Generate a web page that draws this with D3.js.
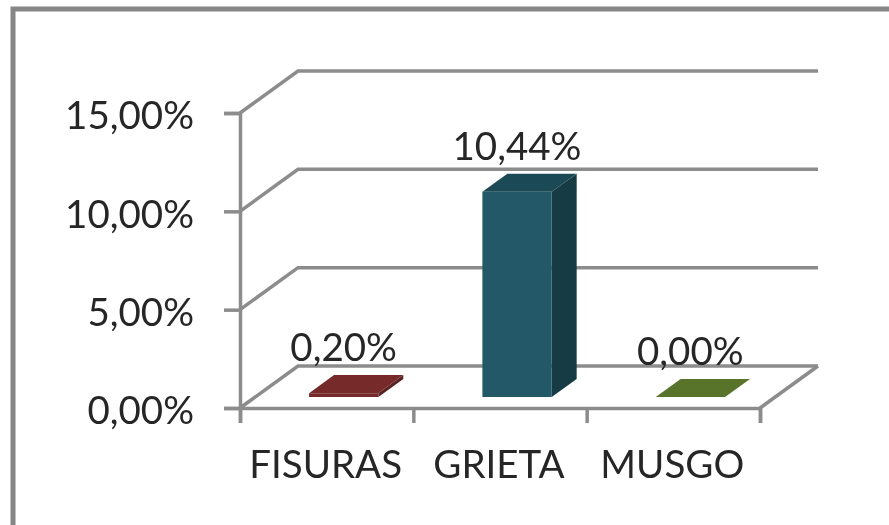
<!DOCTYPE html>
<html>
<head>
<meta charset="utf-8">
<script src="https://cdn.jsdelivr.net/npm/d3@7"></script>
<style>
  html, body { margin: 0; padding: 0; background: #fff; }
  svg { display: block; }
  text { font-family: Lato, "Open Sans", sans-serif; fill: #262626; }
</style>
</head>
<body>
<div id="chart"></div>
<script>
var categories = ["FISURAS", "GRIETA", "MUSGO"];
var values = [0.002, 0.1044, 0];
var barColours = ["#772b2a", "#215968", "#58732c"];
var topColours = ["#772b2a", "#1b4a56", "#58732c"];
var sideColours = ["#5a2020", "#153a44", "#445a22"];
var yTicks = [0, 0.05, 0.10, 0.15];

var width = 889, height = 525;
var plotLeft = 240, plotRight = 760, plotBottom = 408, plotTop = 113;
var depthX = 58, depthY = 42;
var barFront = 0.26, barBack = 0.69;
var grey = "#8c8c8c";
var fontSize = 38.5;

var locale = d3.formatLocale({ decimal: ",", thousands: ".", grouping: [3], currency: ["", ""] });
var pct = locale.format(".2%");

var svg = d3.select("#chart").append("svg")
    .attr("width", width)
    .attr("height", height);

svg.append("defs").append("filter")
    .attr("id", "soft")
    .append("feGaussianBlur")
    .attr("stdDeviation", 0.6);

var chart = svg.append("g").attr("filter", "url(#soft)");

var y = d3.scaleLinear().domain([0, 0.15]).range([plotBottom, plotTop]);
var x = d3.scaleBand().domain(categories).range([plotLeft, plotRight])
    .paddingInner(0.6).paddingOuter(0.3).align(0.519);
var xEdges = d3.scaleLinear().domain([0, categories.length]).range([plotLeft, plotRight]);

// puts a point of the 3d box on the page, z goes 0 (front) to 1 (back)
function project(px, v, z) {
  return [px + depthX * z, y(v) - depthY * z];
}
var line = d3.line();

// outer frame, runs off the page on the right and bottom
chart.append("path")
    .attr("d", "M13," + (height + 5) + "V9H" + (width + 5))
    .attr("fill", "none")
    .attr("stroke", "#868686")
    .attr("stroke-width", 5);

// floor and back wall gridlines
var walls = chart.append("g")
    .attr("fill", "none")
    .attr("stroke", grey)
    .attr("stroke-width", 3.5);

walls.selectAll(".grid")
    .data(yTicks)
    .enter()
    .append("path")
    .attr("class", "grid")
    .attr("d", function(d) {
      return line([project(plotLeft, d, 0), project(plotLeft, d, 1), project(plotRight, d, 1)]);
    });

walls.append("path")
    .attr("d", line([project(plotRight, 0, 0), project(plotRight, 0, 1)]));

// axes
var yAxis = chart.append("g")
    .attr("transform", "translate(" + plotLeft + ",0)")
    .call(d3.axisLeft(y).tickValues(yTicks).tickFormat(pct).tickSize(16).tickPadding(30));

var xTicks = chart.append("g")
    .attr("transform", "translate(0," + plotBottom + ")")
    .call(d3.axisBottom(xEdges).ticks(categories.length).tickFormat("").tickSize(15));

var xAxis = chart.append("g")
    .attr("transform", "translate(0," + plotBottom + ")")
    .call(d3.axisBottom(x).tickSize(0).tickPadding(43));

chart.selectAll(".domain, .tick line")
    .attr("stroke", grey)
    .attr("stroke-width", 3.5);
xAxis.select(".domain").remove();

chart.selectAll(".tick text")
    .attr("font-size", fontSize)
    .attr("fill", "#262626")
    .style("font-family", "Lato");
yAxis.selectAll(".tick text")
    .attr("dy", "0.41em");
xAxis.selectAll(".tick text")
    .attr("dx", -3)
    .attr("dy", "0.71em");

// bars
var bars = chart.selectAll(".bar")
    .data(categories)
    .enter()
    .append("g")
    .attr("class", "bar");

// right side
bars.append("path")
    .attr("fill", function(d, i) { return sideColours[i]; })
    .attr("d", function(d, i) {
      var x1 = x(d) + x.bandwidth();
      return line([project(x1, 0, barFront), project(x1, 0, barBack),
        project(x1, values[i], barBack), project(x1, values[i], barFront)]) + "Z";
    });

// front
bars.append("path")
    .attr("fill", function(d, i) { return barColours[i]; })
    .attr("d", function(d, i) {
      var x0 = x(d), x1 = x0 + x.bandwidth();
      return line([project(x0, 0, barFront), project(x1, 0, barFront),
        project(x1, values[i], barFront), project(x0, values[i], barFront)]) + "Z";
    });

// top
bars.append("path")
    .attr("fill", function(d, i) { return topColours[i]; })
    .attr("d", function(d, i) {
      var x0 = x(d), x1 = x0 + x.bandwidth();
      return line([project(x0, values[i], barFront), project(x1, values[i], barFront),
        project(x1, values[i], barBack), project(x0, values[i], barBack)]) + "Z";
    });

// data labels
bars.append("text")
    .attr("x", function(d) { return x(d) + x.bandwidth() / 2 + 15; })
    .attr("y", function(d, i) { return project(0, values[i], barBack)[1] - 14; })
    .attr("text-anchor", "middle")
    .attr("font-size", fontSize)
    .text(function(d, i) { return pct(values[i]); });
</script>
</body>
</html>
